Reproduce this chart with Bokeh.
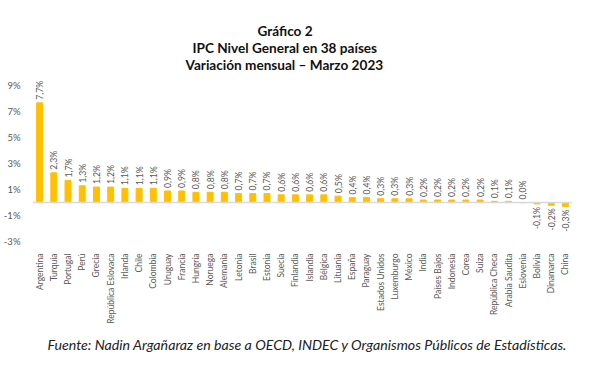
from bokeh.plotting import figure
from bokeh.models import ColumnDataSource, Range1d, FixedTicker, PrintfTickFormatter, Span, Title
from bokeh.core.properties import value
from bokeh.embed import file_html
from bokeh.resources import INLINE
from math import pi

countries = ["Argentina", "Turquía", "Portugal", "Perú", "Grecia", "República Eslovaca",
             "Irlanda", "Chile", "Colombia", "Uruguay", "Francia", "Hungría", "Noruega",
             "Alemania", "Letonia", "Brasil", "Estonia", "Suecia", "Finlandia", "Islandia",
             "Bélgica", "Lituania", "España", "Paraguay", "Estados Unidos", "Luxemburgo",
             "México", "India", "Países Bajos", "Indonesia", "Corea", "Suiza",
             "República Checa", "Arabia Saudita", "Eslovenia", "Bolivia", "Dinamarca", "China"]
values = [7.7, 2.3, 1.7, 1.3, 1.2, 1.2, 1.1, 1.1, 1.1, 0.9, 0.9, 0.8, 0.8, 0.8, 0.7, 0.7,
          0.7, 0.6, 0.6, 0.6, 0.6, 0.5, 0.4, 0.4, 0.3, 0.3, 0.3, 0.2, 0.2, 0.2, 0.2, 0.2,
          0.1, 0.1, 0.0, -0.1, -0.2, -0.3]
y_ticks = [-3, -1, 1, 3, 5, 7, 9]
title_lines = ["Gráfico 2", "IPC Nivel General en 38 países", "Variación mensual – Marzo 2023"]
source_text = "Fuente: Nadin Argañaraz en base a OECD, INDEC y Organismos Públicos de Estadísticas."

FONT = "Lato"
GRAY = "#595959"

labels = [f"{v:.1f}".replace(".", ",") + "%" for v in values]
pos = [i for i, v in enumerate(values) if v >= 0]
neg = [i for i, v in enumerate(values) if v < 0]

src = ColumnDataSource(dict(x=countries, top=values))
src_pos = ColumnDataSource(dict(x=[countries[i] for i in pos], y=[values[i] for i in pos],
                                lab=[labels[i] for i in pos]))
src_neg = ColumnDataSource(dict(x=[countries[i] for i in neg], y=[values[i] for i in neg],
                                lab=[labels[i] for i in neg]))

p = figure(x_range=countries, y_range=Range1d(-3, 9.5), frame_width=540, frame_height=162,
           output_backend="svg", toolbar_location=None,
           min_border_top=79, min_border_left=24, min_border_right=24, min_border_bottom=0)
p.outline_line_color = None
p.xgrid.grid_line_color = None
p.ygrid.grid_line_color = None

p.vbar(x="x", top="top", bottom=0, width=0.42, source=src, color="#FFC000")
p.add_layout(Span(location=0, dimension="width", line_color="#D9D9D9", line_width=1.5))

p.text(x="x", y="y", text="lab", source=src_pos, angle=pi/2, text_align="left",
       text_baseline="middle", y_offset=-3, text_font_size="8.7px", text_color=GRAY,
       text_font=value(FONT))
p.text(x="x", y="y", text="lab", source=src_neg, angle=pi/2, text_align="right",
       text_baseline="middle", y_offset=3, text_font_size="8.7px", text_color=GRAY,
       text_font=value(FONT))

p.yaxis.ticker = FixedTicker(ticks=y_ticks)
p.yaxis.formatter = PrintfTickFormatter(format="%d%%")
p.yaxis.axis_line_color = None
p.yaxis.major_tick_line_color = None
p.yaxis.minor_tick_line_color = None
p.yaxis.major_label_text_font = FONT
p.yaxis.major_label_text_font_size = "9.5px"
p.yaxis.major_label_text_color = GRAY
p.yaxis.major_label_standoff = 6

p.xaxis.axis_line_color = None
p.xaxis.major_tick_line_color = None
p.xaxis.major_label_orientation = pi/2
p.xaxis.major_label_text_font = FONT
p.xaxis.major_label_text_font_size = "8.5px"
p.xaxis.major_label_text_color = GRAY
p.xaxis.major_label_standoff = 6

# added closest-to-frame first
for t, off, so in zip(reversed(title_lines), [153, 160, 225], [14, -16, 14]):
    p.add_layout(Title(text=t, align="left", offset=off, text_font=FONT, text_font_style="bold",
                       text_font_size="13.6px", text_color="#111111", standoff=so), "above")

p.add_layout(Title(text=source_text, align="left", offset=15, text_font=FONT,
                   text_font_style="italic", text_font_size="14.2px", text_color="#222222",
                   standoff=14), "below")

open("out.html", "w").write(file_html(p, INLINE))
